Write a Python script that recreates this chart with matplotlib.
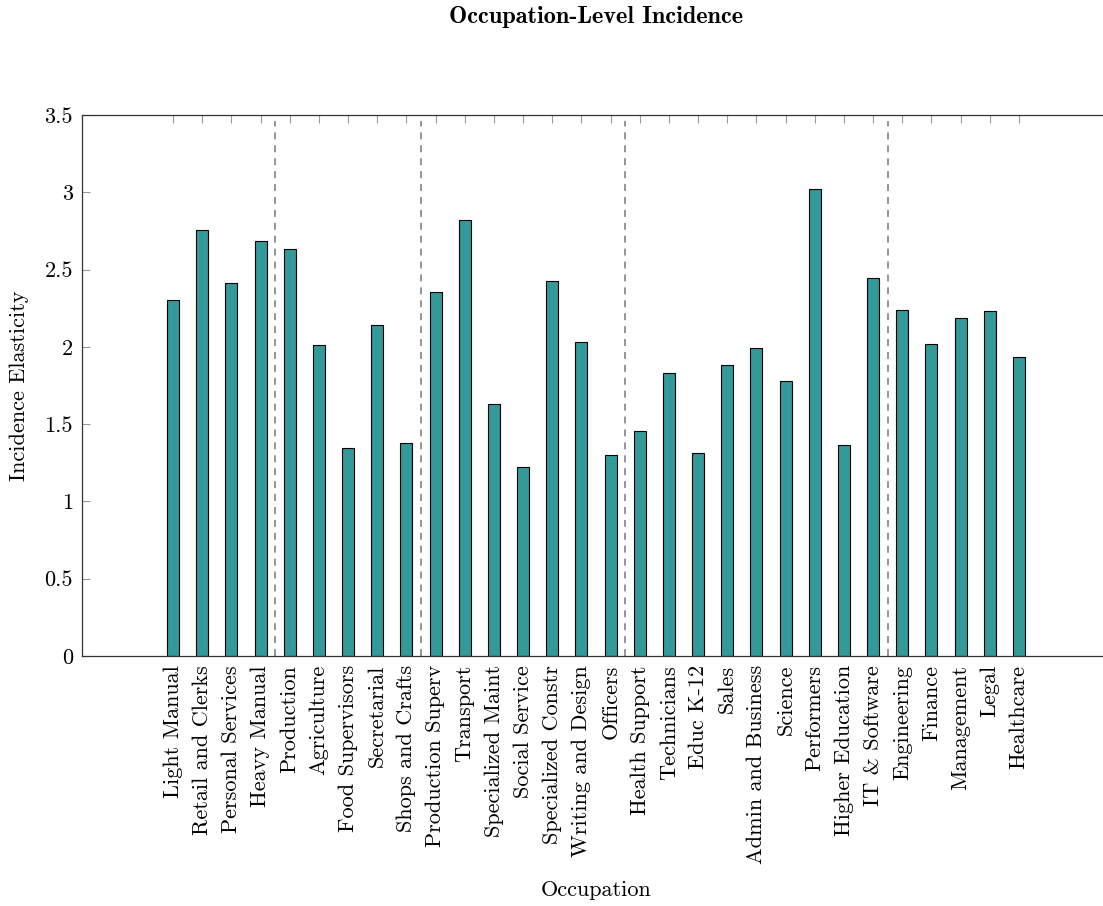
import matplotlib
matplotlib.use("Agg")
import matplotlib.pyplot as plt
import numpy as np

plt.rcParams["font.family"] = ["cmr10", "DejaVu Serif"]
plt.rcParams["axes.formatter.use_mathtext"] = True
plt.rcParams["lines.scale_dashes"] = False

occupations = [
    "Light Manual", "Retail and Clerks", "Personal Services", "Heavy Manual",
    "Production", "Agriculture", "Food Supervisors", "Secretarial",
    "Shops and Crafts", "Production Superv", "Transport", "Specialized Maint",
    "Social Service", "Specialized Constr", "Writing and Design", "Officers",
    "Health Support", "Technicians", "Educ K-12", "Sales",
    "Admin and Business", "Science", "Performers", "Higher Education",
    "IT & Software", "Engineering", "Finance", "Management", "Legal",
    "Healthcare",
]
elasticity = [
    2.305, 2.755, 2.415, 2.685,
    2.635, 2.012, 1.345, 2.142,
    1.38, 2.352, 2.818, 1.63,
    1.225, 2.425, 2.03, 1.298,
    1.455, 1.83, 1.315, 1.885,
    1.992, 1.777, 3.02, 1.365,
    2.447, 2.24, 2.018, 2.186, 2.23,
    1.933,
]
# group boundaries fall between these neighbouring occupations
group_breaks = [3.5, 8.5, 15.5, 24.5]
y_ticks = [0, 0.5, 1, 1.5, 2, 2.5, 3, 3.5]
y_tick_labels = ["0", "0.5", "1", "1.5", "2", "2.5", "3", "3.5"]

W, H = 1103, 906
fig = plt.figure(figsize=(W / 100, H / 100), dpi=100)
ax_w_px = 1110 - 82
ax = fig.add_axes([82 / W, 250 / H, ax_w_px / W, 541 / H])

x = np.arange(len(occupations))
ax.bar(x, elasticity, width=0.41, color="#339999", edgecolor="black",
       linewidth=0.8, zorder=2)

ax.vlines(group_breaks, 0, 3.46, colors="#8c8c8c", linewidth=1.3,
          linestyles=[(0, (5, 4.3))], zorder=1)

ax.set_xlim(-3.12, 32.12)
ax.set_ylim(0, 3.5)

ax.set_xticks(x)
ax.set_xticklabels(occupations, rotation=90, ha="center", va="top",
                   fontsize=16)
ax.set_yticks(y_ticks)
ax.set_yticklabels(y_tick_labels, fontsize=16)

ax.tick_params(axis="x", which="both", bottom=False, top=True,
               direction="in", length=6, width=0.8, color="#999999", pad=6.5)
ax.tick_params(axis="y", which="both", left=True, right=False,
               direction="in", length=6, width=0.8, color="#999999", pad=6.5)
ax.tick_params(axis="x", labelbottom=True, labeltop=False)

for side in ["left", "top", "bottom"]:
    ax.spines[side].set_color("#333333")
    ax.spines[side].set_linewidth(0.9)
ax.spines["right"].set_visible(False)

ax.set_ylabel("Incidence Elasticity", fontsize=16)
ax.yaxis.set_label_coords(-(82 - 29) / ax_w_px, 0.5)

fig.text(596 / W, 1 - 890 / H, "Occupation", fontsize=16,
         ha="center", va="center")
fig.text(596 / W, 1 - 17 / H, "Occupation-Level Incidence", fontsize=17.5,
         ha="center", va="center", family=["cmb10", "DejaVu Serif"],
         fontweight="bold")

fig.savefig("out.png", dpi=100)
